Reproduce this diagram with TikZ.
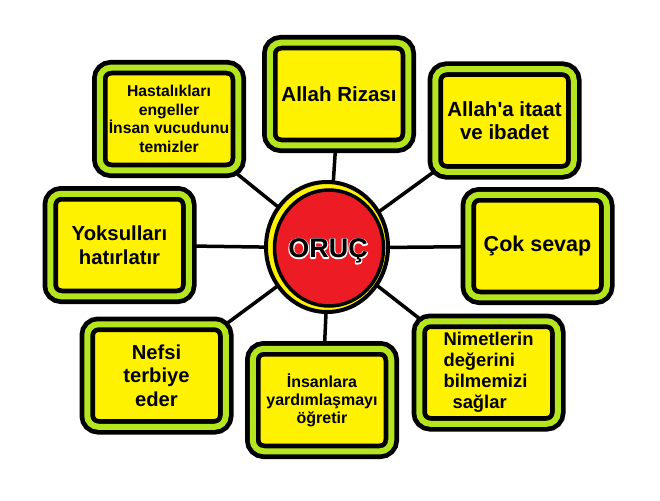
\documentclass[tikz,border=0pt]{standalone}
\usepackage{fontspec}
\newfontfamily\yazi{Liberation Sans}
\usetikzlibrary{shapes.geometric, backgrounds}
\definecolor{sari}{RGB}{255, 242, 0}
\definecolor{yesil}{RGB}{181, 230, 29}
\definecolor{kirmizi}{RGB}{237, 28, 36}
% beyaz kenarli yazi
\newcommand\kenarli[1]{\special{pdf:code 1 1 1 RG 2.2 w 1 j 1 Tr}\rlap{#1}\special{pdf:code 0 0 0 RG 1 w 0 Tr}#1}

\begin{document}
\begin{tikzpicture}[x=1pt, y=1pt, thick,
    kutu/.style={draw, rounded corners=11pt, line width=4.75pt, double=yesil,
      double distance=6pt, fill=sari, minimum width=138.5pt,
      minimum height=102.5pt, inner sep=0pt, align=center},
    bag/.style={line width=3.5pt}]

  \useasboundingbox (0, 0) rectangle (660, -500);

  % merkez
  \node[ellipse, draw, line width=4pt, fill=sari, minimum width=122pt,
    minimum height=130pt] (halka) at (327, -247) {};
  \node[ellipse, draw, line width=3.5pt, fill=kirmizi, minimum width=109pt,
    minimum height=116pt] (oruc) at (329, -248) {};

  % kutular
  \foreach \nm/\px/\py/\fs/\bs/\txt in {
      riza/339/94/20.5/23.5/{Allah Rizası},
      itaat/504.5/120.5/20.5/23/{Allah'a itaat\\ve ibadet},
      hastalik/169/119/15.7/18.5/{Hastalıkları\\engeller\\İnsan vucudunu\\temizler},
      yoksul/119.5/245/20.3/24/{Yoksulları\\hatırlatır},
      sevap/537.5/246/21.5/24/{Çok sevap},
      nefs/156.5/375.5/20.2/23.5/{Nefsi\\terbiye\\eder},
      yardim/322/400/16/18/{İnsanlara\\yardımlaşmayı\\öğretir},
      nimet/488.5/372.5/18.4/21/{\begin{tabular}{@{}l@{}}Nimetlerin\\değerini\\bilmemizi\\\hspace*{9pt}sağlar\end{tabular}}} {
    \node[kutu, font=\yazi\bfseries\fontsize{\fs}{\bs}\selectfont] (\nm) at (\px, -\py) {\txt};
  }

  \node[text depth=0pt, inner sep=0pt, font=\yazi\bfseries\fontsize{27}{30}\selectfont]
    (orucyazi) at (328, -248.5) {\kenarli{ORUÇ}};

  % baglar
  \begin{scope}[on background layer]
    \foreach \nm in {riza, itaat, hastalik, yoksul, sevap, nefs, yardim, nimet}
      \draw[bag] (oruc.center) -- (\nm.center);
  \end{scope}

\end{tikzpicture}
\end{document}
